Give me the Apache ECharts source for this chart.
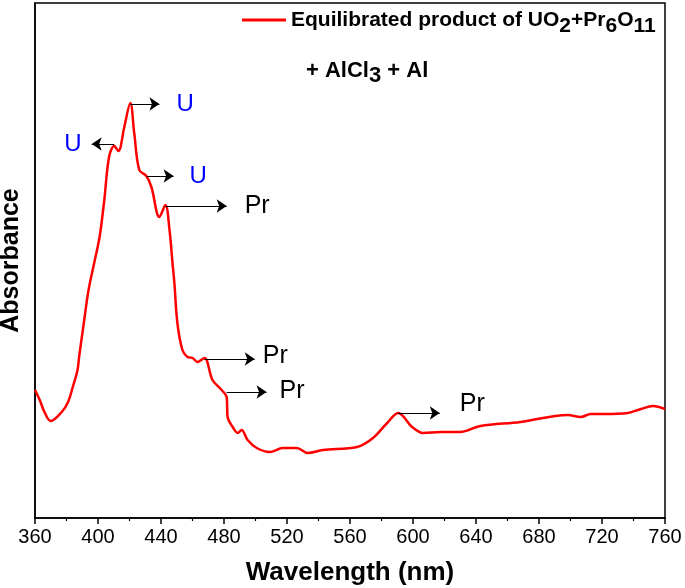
<!DOCTYPE html>
<html>
<head>
<meta charset="utf-8">
<script src="https://cdn.jsdelivr.net/npm/echarts@6/dist/echarts.min.js"></script>
<style>html,body{margin:0;padding:0;background:#fff}#c{width:685px;height:588px}</style>
</head>
<body>
<div id="c"></div>
<script>
const wavelength = [360,363,366,370,377,381,384,387,388,391,394,398,401,404,407,410.3,412.9,416.7,420.5,423,426.2,430.7,433.9,439,442.8,445.4,447.3,448.5,450.4,453.6,456.8,460,463.2,467.6,472.7,478.5,481.7,482.3,485.5,488.7,491.2,495,500.8,509,517.3,526.2,533.2,542.8,564.5,574.6,583.6,590.6,599.5,606.5,617.3,630,642.8,668.3,698.2,706.5,712.9,721.1,736.4,744.7,752.4,760];
const absorbance = [1.28,1.18,1.06,0.97,1.06,1.16,1.31,1.48,1.61,1.95,2.28,2.58,2.81,3.18,3.61,3.72,3.67,3.91,4.15,3.85,3.48,3.42,3.31,3.01,3.13,2.88,2.55,2.35,1.95,1.68,1.61,1.60,1.56,1.60,1.38,1.28,1.21,1.01,0.91,0.85,0.88,0.78,0.70,0.66,0.70,0.70,0.65,0.68,0.71,0.80,0.95,1.05,0.91,0.85,0.86,0.86,0.92,0.96,1.03,1.01,1.04,1.04,1.05,1.09,1.12,1.09];
const xTicks = [360,400,440,480,520,560,600,640,680,720,760];
const annotText = ['U','U','U','Pr','Pr','Pr','Pr'];
const annotColor = ['#0000ff','#0000ff','#0000ff','#000','#000','#000','#000'];
const annotStart = [410.3,420.5,431,443,467.6,481.7,590.6];
const annotEnd = [396,439,448,481.7,499.5,507,617];
const annotLevel = [3.74,4.14,3.42,3.12,1.59,1.26,1.05];
const annotGap = [10,17,16,18,8,13,20];
const annotLift = [0,0,0,0,3,1,9];

const chart = echarts.init(document.getElementById('c'));
const FONT = 'Liberation Sans, Arial, sans-serif';
const markData = annotText.map((t,i)=>{
  const fs = t==='U'?24:25;
  const lift = annotLift[i];
  return [
    {coord:[annotStart[i],annotLevel[i]], label:{show:true, position:'end', distance:annotGap[i],
      formatter: lift>0 ? '{t|'+t+'}\n{g|}' : '{t|'+t+'}',
      rich:{t:{fontSize:fs,fontFamily:FONT,color:annotColor[i],lineHeight:fs+4},
            g:{fontSize:1,lineHeight:2*lift}}}},
    {coord:[annotEnd[i],annotLevel[i]]}
  ];
});
chart.setOption({
  animation:false,
  grid:{left:35,right:20,top:3,bottom:70,show:true,borderColor:'#000',borderWidth:1.5,outerBoundsMode:'none',containLabel:false},
  legend:{
    left:237, top:-2, itemWidth:44, itemHeight:3, itemGap:5,
    data:[{name:'s', icon:'rect', itemStyle:{color:'#ff0000'}}],
    formatter:()=>'{m|Equilibrated product of UO}{s|2}{m|+Pr}{s|6}{m|O}{s|11}',
    textStyle:{rich:{
      m:{fontSize:21,fontWeight:'bold',fontFamily:FONT,color:'#000',lineHeight:32,verticalAlign:'middle'},
      s:{fontSize:21,fontWeight:'bold',fontFamily:FONT,color:'#000',lineHeight:32,padding:[13,0,0,0],verticalAlign:'middle'}
    }}
  },
  graphic:[{type:'text', left:306, top:54, style:{rich:{
      m:{fontSize:22,fontWeight:'bold',fontFamily:FONT,fill:'#000',lineHeight:30},
      s:{fontSize:22,fontWeight:'bold',fontFamily:FONT,fill:'#000',lineHeight:30,padding:[11,0,0,0]}
    }, text:'{m|+ AlCl}{s|3}{m| + Al}'}}],
  xAxis:{
    type:'value', min:360, max:760, interval:40,
    name:'Wavelength (nm)', nameLocation:'middle', nameGap:42,
    nameTextStyle:{fontSize:26,fontWeight:'bold',fontFamily:FONT,color:'#000'},
    axisLine:{onZero:false,lineStyle:{color:'#000',width:1.5}},
    axisTick:{show:true,inside:false,length:6,lineStyle:{color:'#000',width:1.5}},
    minorTick:{show:true,splitNumber:2,length:3,lineStyle:{color:'#000',width:1.2}},
    axisLabel:{fontSize:20,fontFamily:FONT,color:'#000',margin:9,formatter:v=>xTicks.includes(v)?String(v):''},
    splitLine:{show:false}
  },
  yAxis:{
    type:'value', min:0, max:5.15,
    name:'Absorbance', nameLocation:'middle', nameGap:11,
    nameTextStyle:{fontSize:25,fontWeight:'bold',fontFamily:FONT,color:'#000'},
    axisLine:{show:true,lineStyle:{color:'#000',width:1.5}},
    axisTick:{show:false}, axisLabel:{show:false}, splitLine:{show:false}
  },
  series:[{
    name:'s', type:'line', data:wavelength.map((w,i)=>[w,absorbance[i]]),
    showSymbol:false, smooth:0.35, lineStyle:{color:'#ff0000',width:2.5}, itemStyle:{color:'#ff0000'},
    markLine:{silent:true, symbol:['none','arrow'], symbolSize:10, animation:false,
      lineStyle:{color:'#000',width:1,type:'solid'}, data:markData}
  }]
});
</script>
</body>
</html>
